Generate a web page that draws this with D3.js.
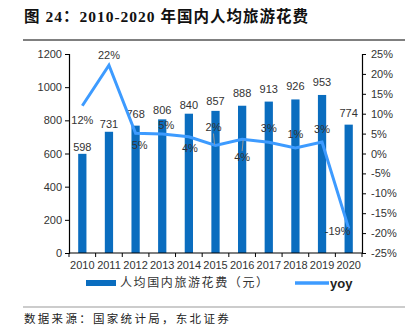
<!DOCTYPE html>
<html><head><meta charset="utf-8">
<script src="https://cdn.jsdelivr.net/npm/d3@7/dist/d3.min.js"></script>
<style>
body{margin:0;background:#fff;}
svg{display:block;}
</style></head>
<body>
<svg id="c" width="413" height="326"></svg>
<script>
const years = ["2010","2011","2012","2013","2014","2015","2016","2017","2018","2019","2020"];
const spending = [598,731,768,806,840,857,888,913,926,953,774];
const yoy = [12,22.2,5.1,4.9,4.2,2.0,3.6,2.8,1.4,2.9,-18.8];
const yoyLabels = ["12%","22%","5%","5%","4%","2%","4%","3%","1%","3%","-19%"];
const leftTicks = [0,200,400,600,800,1000,1200];
const rightTicks = [-25,-20,-15,-10,-5,0,5,10,15,20,25];

// layout-only arrays (label placement)
const barLabelGap = [3,4,8,5,5,6,9,9,9,9,8];
const yoyLabelDx = [0,0,4,4,1,-2,0,0,0,0,-11];
const yoyLabelDy = [14,-10,12,-9,11,-18,18,-14,-14,-13,3];
const yoyLeader = [false,false,false,false,false,true,true,false,false,false,false];

const svg = d3.select("#c");
const L = 69, R = 362, T = 54, B = 253;
const x = d3.scaleBand().domain(years).range([L,R]).padding(0);
const yL = d3.scaleLinear().domain([0,1200]).range([B,T]);
const yR = d3.scaleLinear().domain([-25,25]).range([B,T]);
const barColor = "#0A6DBF", lineColor = "#3D9BFF", txt = "#333";

// title
svg.append("text").attr("x",24).attr("y",22)
  .attr("font-family","'Liberation Serif','Noto Sans CJK SC',serif")
  .attr("font-weight","bold").attr("font-size",15.5).attr("fill","#111")
  .attr("letter-spacing",1)
  .text("图 24：2010-2020 年国内人均旅游花费");
svg.append("line").attr("x1",23).attr("x2",405).attr("y1",40).attr("y2",40)
  .attr("stroke","#000").attr("stroke-width",1);

// bars
const bw = x.bandwidth()*0.31;
svg.append("g").selectAll("rect").data(spending).join("rect")
  .attr("x",(d,i)=>x(years[i])+x.bandwidth()/2-bw/2)
  .attr("y",d=>yL(d)).attr("width",bw).attr("height",d=>B-yL(d))
  .attr("fill",barColor);

// axes
const axL = svg.append("g").attr("transform",`translate(${L},0)`)
  .call(d3.axisLeft(yL).tickValues(leftTicks).tickSize(4).tickPadding(3).tickFormat(d=>String(d)));
const axR = svg.append("g").attr("transform",`translate(${R},0)`)
  .call(d3.axisRight(yR).tickValues(rightTicks).tickSize(4).tickPadding(5).tickFormat(d=>d+"%"));
const axX = svg.append("g").attr("transform",`translate(0,${B})`)
  .call(d3.axisBottom(x).tickSize(0).tickPadding(8));
axX.append("g").selectAll("line").data(d3.range(years.length+1)).join("line")
  .attr("x1",i=>L+i*x.bandwidth()).attr("x2",i=>L+i*x.bandwidth())
  .attr("y1",0).attr("y2",4).attr("stroke","#000");
[axL,axR,axX].forEach(a=>{
  a.selectAll(".domain").attr("stroke","#000").attr("stroke-width",1.2);
  a.selectAll(".tick line").attr("stroke","#000");
  a.selectAll("text").attr("font-family","'Liberation Sans',Arial,sans-serif")
    .attr("font-size",11).attr("fill",txt);
});
axX.select(".domain").attr("d",`M${L},0H${R}`);

// bar labels
svg.append("g").selectAll("text").data(spending).join("text")
  .attr("x",(d,i)=>x(years[i])+x.bandwidth()/2)
  .attr("y",(d,i)=>yL(d)-barLabelGap[i])
  .attr("text-anchor","middle")
  .attr("font-family","'Liberation Sans',Arial,sans-serif").attr("font-size",11).attr("fill",txt)
  .text(d=>d);

// line
const cx = i=>x(years[i])+x.bandwidth()/2;
svg.append("path").datum(yoy)
  .attr("d",d3.line().x((d,i)=>cx(i)).y(d=>yR(d)))
  .attr("fill","none").attr("stroke",lineColor).attr("stroke-width",3)
  .attr("stroke-linejoin","miter");

// leaders
svg.append("g").selectAll("line").data(yoy.map((d,i)=>i).filter(i=>yoyLeader[i])).join("line")
  .attr("x1",i=>cx(i)+yoyLabelDx[i]).attr("x2",i=>cx(i)+yoyLabelDx[i]+1)
  .attr("y1",i=>yR(yoy[i])+(yoyLabelDy[i]<0?yoyLabelDy[i]+6:yoyLabelDy[i]-6))
  .attr("y2",i=>yR(yoy[i])+(yoyLabelDy[i]<0?-1:1))
  .attr("stroke","#999").attr("stroke-width",1);

// yoy labels
svg.append("g").selectAll("text").data(yoy).join("text")
  .attr("x",(d,i)=>cx(i)+yoyLabelDx[i])
  .attr("y",(d,i)=>yR(d)+yoyLabelDy[i])
  .attr("dy","0.35em").attr("text-anchor","middle")
  .attr("font-family","'Liberation Sans',Arial,sans-serif").attr("font-size",11).attr("fill",txt)
  .text((d,i)=>yoyLabels[i]);

// legend
const lg = svg.append("g");
lg.append("rect").attr("x",86).attr("y",280).attr("width",30).attr("height",6).attr("fill",barColor);
lg.append("text").attr("x",120).attr("y",283).attr("dy","0.35em")
  .attr("font-family","'Noto Sans CJK SC',sans-serif").attr("font-size",12).attr("fill",txt)
  .attr("letter-spacing",1.6).text("人均国内旅游花费（元）");
lg.append("line").attr("x1",295).attr("x2",329).attr("y1",283).attr("y2",283)
  .attr("stroke",lineColor).attr("stroke-width",3.5);
lg.append("text").attr("x",330).attr("y",283).attr("dy","0.35em")
  .attr("font-family","'Liberation Sans',Arial,sans-serif").attr("font-size",13).attr("font-weight","bold").attr("fill","#222")
  .text("yoy");

// source
svg.append("line").attr("x1",23).attr("x2",405).attr("y1",307).attr("y2",307)
  .attr("stroke","#999").attr("stroke-width",1);
svg.append("text").attr("x",24).attr("y",319).attr("dy","0.35em")
  .attr("font-family","'Noto Sans CJK SC',sans-serif").attr("font-size",11.5).attr("fill","#222")
  .attr("letter-spacing",2.3).text("数据来源：国家统计局，东北证券");
</script>
</body></html>
